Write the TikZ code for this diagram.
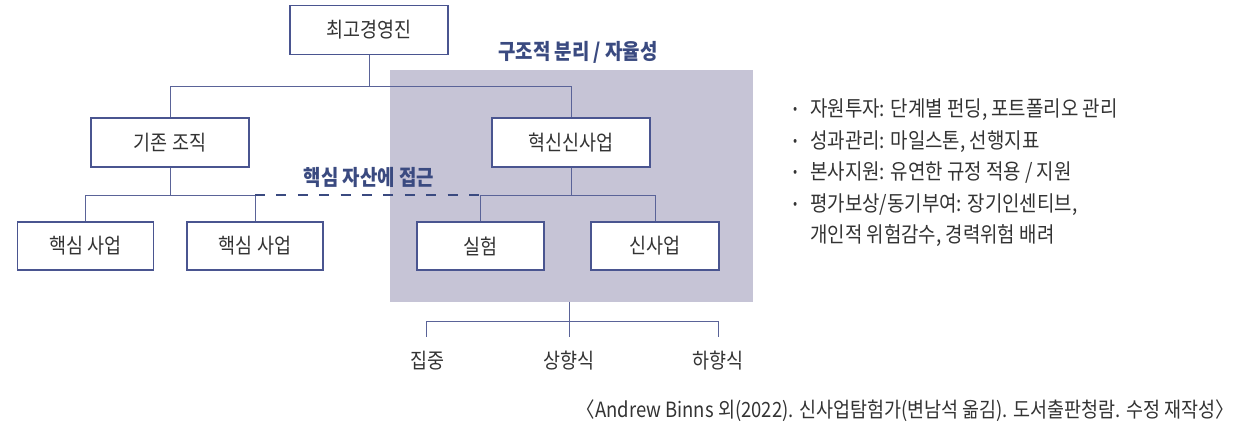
\documentclass[tikz,border=0pt]{standalone}
\usepackage{fontspec}
\setmainfont{Noto Sans CJK KR}[FakeStretch=0.88]
\definecolor{navy}{HTML}{3A4A80}
\definecolor{linec}{HTML}{5A6398}
\definecolor{boxc}{HTML}{4A5590}
\definecolor{graybg}{HTML}{C6C4D6}
\definecolor{txt}{HTML}{333333}
\newcommand{\mybul}{\makebox[17pt][l]{\raisebox{3.5pt}{\fontsize{14}{14}\selectfont •}}}
\begin{document}
\begin{tikzpicture}[x=1pt,y=-1pt,
  orgbox/.style={draw=boxc,line width=1.2pt,fill=white,minimum width=158pt,minimum height=49pt,inner sep=0pt,font=\fontsize{21}{24}\selectfont,text=txt},
  smallbox/.style={orgbox,minimum width=136pt,minimum height=48pt},
  conn/.style={draw=linec,line width=1pt},
  emph/.style={font=\bfseries\fontsize{21.5}{24}\selectfont,text=navy,inner sep=0pt},
  lbl/.style={font=\fontsize{21}{24}\selectfont,text=txt,inner sep=0pt},
  bul/.style={font=\fontsize{21.5}{24}\selectfont,text=txt,anchor=west,inner sep=0pt}]
\useasboundingbox (0,0) rectangle (1237,427);
\fill[graybg] (390,70) rectangle (753,302);
\node[orgbox] (top) at (369,30) {최고경영진};
\node[orgbox] (old) at (170,142.5) {기존 조직};
\node[orgbox] (new) at (571,142.5) {혁신신사업};
\node[smallbox] (c1) at (85.5,246) {핵심 사업};
\node[smallbox] (c2) at (255,246) {핵심 사업};
\node[smallbox,minimum width=127pt] (e1) at (480.5,246) {실험};
\node[smallbox,minimum width=128pt] (e2) at (655,246) {신사업};
\coordinate (gb) at (569,302);
\node[emph] (t1) at (578,52) {구조적 분리 / 자율성};
\node[emph] (t2) at (369,177) {핵심 자산에 접근};
% connectors
\draw[conn] (top.south) -- ++(0,31) coordinate (j0);
\draw[conn] (old.north) |- (j0) -| (new.north);
\draw[conn] (old.south) -- ++(0,27.5) coordinate (j1);
\draw[conn] (c1.north) |- (j1) -| (c2.north);
\draw[conn] (new.south) -- ++(0,27.5) coordinate (j2);
\draw[conn] (e1.north) |- (j2) -| (e2.north);
\draw[navy,line width=2.4pt,dash pattern=on 10pt off 11.4pt] (c2.north |- j1) -- (e1.north |- j2);
\coordinate (b1) at (426,337);
\coordinate (b2) at (569,337);
\coordinate (b3) at (718,337);
\draw[conn] (gb) -- (b2);
\draw[conn] (b1) -- ++(0,-15) -| (b3);
\node[lbl] (l1) at (427,361) {집중};
\node[lbl] (l2) at (569,361) {상향식};
\node[lbl] (l3) at (718,361) {하향식};
% bullets
\node[bul] (p1) at (793,110) {\mybul 자원투자: 단계별 펀딩, 포트폴리오 관리};
\node[bul] (p2) at (793,142) {\mybul 성과관리: 마일스톤, 선행지표};
\node[bul] (p3) at (793,173) {\mybul 본사지원: 유연한 규정 적용 / 지원};
\node[bul] (p4) at (793,205) {\mybul 평가보상/동기부여: 장기인센티브,};
\node[bul] (p5) at (810,236) {개인적 위험감수, 경력위험 배려};
\node[font=\fontsize{21}{24}\selectfont,text=txt,anchor=east,inner sep=0pt] (cap) at (1234,411) {〈Andrew Binns 외(2022). 신사업탐험가(변남석 옮김). 도서출판청람. 수정 재작성〉};
\end{tikzpicture}
\end{document}
